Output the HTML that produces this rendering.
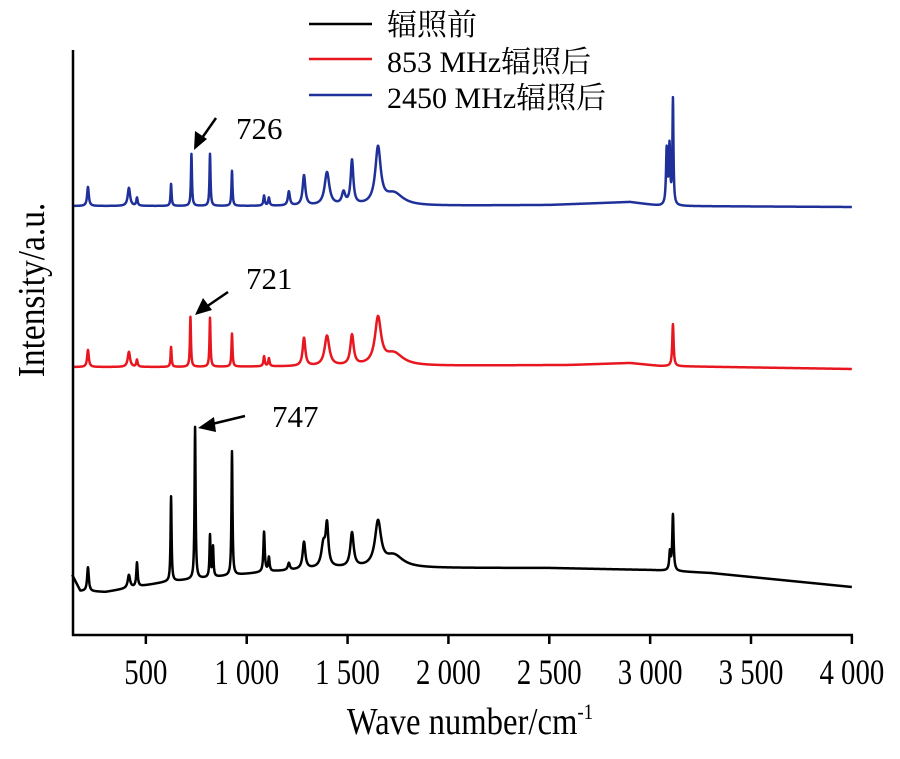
<!DOCTYPE html>
<html><head><meta charset="utf-8"><style>
html,body{margin:0;padding:0;background:#fff;}
svg text{font-family:"Liberation Serif","Noto Serif CJK SC",serif;fill:#000;}
</style></head><body>
<svg id="chart" width="900" height="754" viewBox="0 0 900 754" xmlns="http://www.w3.org/2000/svg">
<g id="series"></g>
<line x1="73" y1="50" x2="73" y2="636" stroke="#000" stroke-width="2.5"/>
<line x1="72" y1="635" x2="853" y2="635" stroke="#000" stroke-width="2.5"/>
<g id="xticks"></g>
<text x="0" y="0" font-size="38" text-anchor="middle" transform="translate(470 734) scale(0.86 1)">Wave number/cm<tspan font-size="22" dy="-15">-1</tspan></text>
<text x="0" y="0" font-size="38" text-anchor="middle" transform="translate(44 290) rotate(-90) scale(0.88 1)">Intensity/a.u.</text>
<g>
<line x1="309" y1="24" x2="372" y2="24" stroke="#000" stroke-width="2.5"/>
<text x="387" y="35" font-size="30">辐照前</text>
<line x1="309" y1="59" x2="372" y2="59" stroke="#e8161f" stroke-width="2.5"/>
<text x="387" y="72" font-size="30">853 MHz辐照后</text>
<line x1="309" y1="95" x2="372" y2="95" stroke="#1f3199" stroke-width="2.5"/>
<text x="387" y="108" font-size="30">2450 MHz辐照后</text>
</g>
<g stroke="#000" stroke-width="2.5" fill="#000">
<text x="236" y="139" font-size="31" stroke="none">726</text>
<line x1="216" y1="118" x2="202" y2="138"/><polygon points="194,150 195,131 207,139" stroke="none"/>
<text x="246" y="289" font-size="31" stroke="none">721</text>
<line x1="228" y1="292" x2="206" y2="307"/><polygon points="195,315 203,298 212,310" stroke="none"/>
<text x="272" y="427" font-size="31" stroke="none">747</text>
<line x1="245" y1="416" x2="212" y2="424"/><polygon points="198,428 214,417 216,432" stroke="none"/>
</g>
</svg>
<script>
// Data arrays
const tickValues = [500, 1000, 1500, 2000, 2500, 3000, 3500, 4000];
const tickLabels = ["500", "1 000", "1 500", "2 000", "2 500", "3 000", "3 500", "4 000"];
// before irradiation (black)
const blackBaseW = [135, 160, 175, 300, 600, 800, 1100, 1400, 1800, 2500, 3000, 3300, 4000];
const blackBaseV = [60, 50, 44, 43, 53, 57, 63, 67, 67, 67, 65, 62, 48];
const blackPeakW = [213, 416, 456, 625, 744, 818, 833, 927, 1086, 1110, 1209, 1284, 1380, 1398, 1522, 1651, 1730, 3098, 3113];
const blackPeakH = [24, 13, 24, 85, 152, 42, 30, 124, 40, 14, 7, 27, 22, 40, 34, 44, 12, 18, 56];
const blackPeakWd = [5, 7, 4, 3, 3, 3, 3, 3, 4, 4, 6, 8, 12, 8, 10, 18, 55, 4, 4];
// 853 MHz (red)
const redBaseW = [135, 600, 1800, 2600, 2900, 3050, 4000];
const redBaseV = [268, 268, 269, 270, 272, 269, 266];
const redPeakW = [213, 416, 456, 625, 721, 818, 927, 1086, 1110, 1284, 1398, 1522, 1651, 1730, 3113];
const redPeakH = [17, 15, 7, 20, 50, 49, 33, 10, 8, 28, 30, 30, 46, 12, 42];
const redPeakWd = [5, 7, 4, 3, 3, 3, 3, 4, 4, 8, 14, 10, 18, 55, 4];
// 2450 MHz (blue)
const blueBaseW = [135, 600, 1800, 2500, 2900, 3050, 4000];
const blueBaseV = [429, 429, 429, 430, 433, 429, 428];
const bluePeakW = [213, 416, 456, 625, 726, 818, 927, 1086, 1110, 1209, 1284, 1398, 1480, 1522, 1651, 1730, 3082, 3096, 3113];
const bluePeakH = [19, 18, 8, 22, 52, 52, 35, 10, 8, 14, 30, 33, 12, 44, 56, 12, 55, 58, 105];
const bluePeakWd = [5, 7, 4, 3, 3, 3, 3, 4, 4, 6, 8, 14, 10, 8, 16, 55, 4, 4, 3];

const NS = "http://www.w3.org/2000/svg";
function xScale(w) { return 45 + w * (852 - 146) / 3500; }
function yScale(v) { return 635 - v; }
function interp(ws, vs, w) {
  if (w <= ws[0]) return vs[0];
  for (let i = 1; i < ws.length; i++) {
    if (w <= ws[i]) { const t = (w - ws[i-1]) / (ws[i] - ws[i-1]); return vs[i-1] + t * (vs[i] - vs[i-1]); }
  }
  return vs[vs.length - 1];
}
function spectrum(bw, bv, pw, ph, pd) {
  let d = "";
  for (let w = 135; w <= 4000; w += 1) {
    let v = interp(bw, bv, w);
    for (let i = 0; i < pw.length; i++) { const z = (w - pw[i]) / pd[i]; v += ph[i] / (1 + z * z); }
    d += (w === 135 ? "M" : "L") + xScale(w).toFixed(2) + "," + yScale(v).toFixed(2);
  }
  return d;
}
const g = document.getElementById("series");
const defs = [
  ["spectrum-before", "#000", blackBaseW, blackBaseV, blackPeakW, blackPeakH, blackPeakWd],
  ["spectrum-853mhz", "#e8161f", redBaseW, redBaseV, redPeakW, redPeakH, redPeakWd],
  ["spectrum-2450mhz", "#1f3199", blueBaseW, blueBaseV, bluePeakW, bluePeakH, bluePeakWd]
];
defs.forEach(s => {
  const p = document.createElementNS(NS, "path");
  p.setAttribute("d", spectrum(s[2], s[3], s[4], s[5], s[6]));
  p.setAttribute("fill", "none");
  p.setAttribute("stroke", s[1]);
  p.setAttribute("stroke-width", "2.5");
  p.setAttribute("stroke-linejoin", "round");
  
  
  g.appendChild(p);
});
const tg = document.getElementById("xticks");
tickValues.forEach((t, i) => {
  const x = xScale(t);
  const l = document.createElementNS(NS, "line");
  l.setAttribute("x1", x); l.setAttribute("x2", x);
  l.setAttribute("y1", 635); l.setAttribute("y2", 644);
  l.setAttribute("stroke", "#000"); l.setAttribute("stroke-width", "2.5");
  
  
  tg.appendChild(l);
  const tx = document.createElementNS(NS, "text");
  tx.setAttribute("x", 0); tx.setAttribute("y", 0);
  tx.setAttribute("font-size", "36");
  tx.setAttribute("text-anchor", "middle");
  tx.setAttribute("transform", "translate(" + x + " 684) scale(0.8 1)");
  tx.textContent = tickLabels[i];
  
  
  tg.appendChild(tx);
});
</script>
</body></html>
